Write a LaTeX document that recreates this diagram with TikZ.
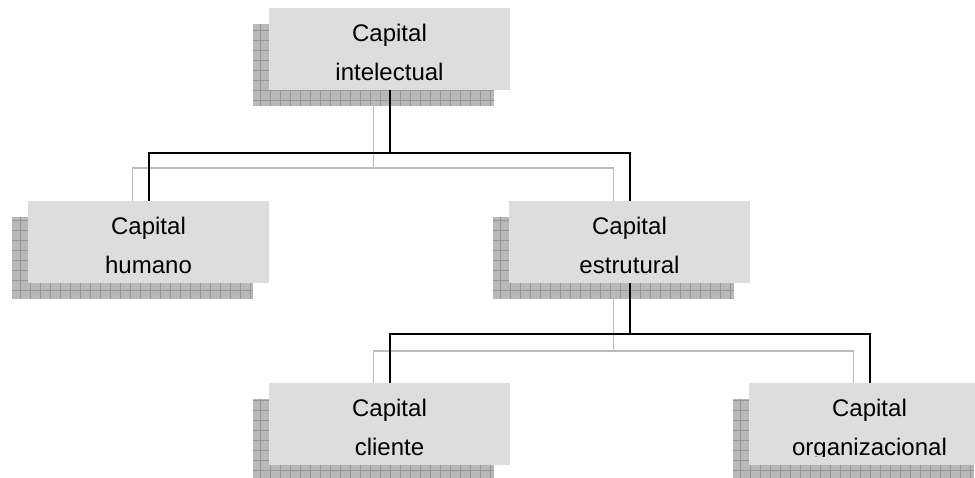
\documentclass[tikz,border=0pt]{standalone}
\usepackage{fontspec}
\setmainfont{Liberation Sans}
\definecolor{boxfill}{RGB}{221,221,221}
\definecolor{shadefill}{RGB}{184,184,184}
\definecolor{shadegrid}{RGB}{150,150,150}
\definecolor{echo}{RGB}{188,188,188}
\pgfdeclarelayer{background}
\pgfsetlayers{background,main}
\tikzset{
  unitbox/.style={rectangle, fill=boxfill, minimum width=241pt, minimum height=82pt,
    inner sep=0pt, outer sep=0pt},
  link/.style={line width=2pt, black},
  echoline/.style={line width=1.6pt, echo},
  lbl/.style={anchor=base, inner sep=0pt, font=\fontsize{24}{28}\selectfont},
  shadeoff/.style={shift={(-16pt,-16pt)}}
}
% two-line caption, cut off just below the second baseline
\newcommand\boxlabel[2]{%
  \begin{scope}
    \clip (#1.north west) rectangle ([yshift=8.5pt]#1.south east);
    \node[lbl] (#1-a) at ([yshift=-33.5pt]#1.north) {Capital};
    \node[lbl] (#1-b) at ([yshift=-72.5pt]#1.north) {#2};
  \end{scope}}
% hatched drop shadow behind a box
\newcommand\dropshade[1]{%
  \fill[shadefill] ([shadeoff]#1.north west) rectangle ([shadeoff]#1.south east);
  \begin{scope}
    \clip ([shadeoff]#1.north west) rectangle ([shadeoff]#1.south east);
    \draw[shadegrid, line width=0.8pt, step=10pt]
      ([shadeoff]#1.north west) grid ([shadeoff]#1.south east);
  \end{scope}}
\begin{document}
\begin{tikzpicture}[x=1pt,y=-1pt]
\useasboundingbox (0,0) rectangle (975,477);
\clip (0,0) rectangle (975,477);

% boxes
\node[unitbox] (intel) at (389.5,49) {};
\node[unitbox] (hum)   at (148.5,242) {};
\node[unitbox] (estr)  at (629.5,242) {};
\node[unitbox] (cli)   at (389.5,424) {};
\node[unitbox] (org)   at (869.5,424) {};

\boxlabel{intel}{intelectual}
\boxlabel{hum}{humano}
\boxlabel{estr}{estrutural}
\boxlabel{cli}{cliente}
\boxlabel{org}{organizacional}

% junction points of the tree
\coordinate (j1) at (389.5,153);
\coordinate (j2) at (629.5,334);
\coordinate (e1) at (373.5,168);
\coordinate (e2) at (613.5,351);

\begin{pgfonlayer}{background}
  \dropshade{intel}
  \dropshade{hum}
  \dropshade{estr}
  \dropshade{cli}
  \dropshade{org}

  % grey echo of the connectors
  \draw[echoline] ([xshift=-16pt,yshift=-7pt]intel.south) -- (e1);
  \draw[echoline] ([xshift=-16pt]hum.north) |- (e1) -| ([xshift=-16pt]estr.north);
  \draw[echoline] ([xshift=-16pt,yshift=-4pt]estr.south) -- (e2);
  \draw[echoline] ([xshift=-16pt]cli.north) |- (e2) -| ([xshift=-16pt]org.north);

  % connectors
  \draw[link] (intel.south) -- (j1);
  \draw[link] (hum.north) |- (j1) -| (estr.north);
  \draw[link] (estr.south) -- (j2);
  \draw[link] (cli.north) |- (j2) -| (org.north);
\end{pgfonlayer}
\end{tikzpicture}
\end{document}
